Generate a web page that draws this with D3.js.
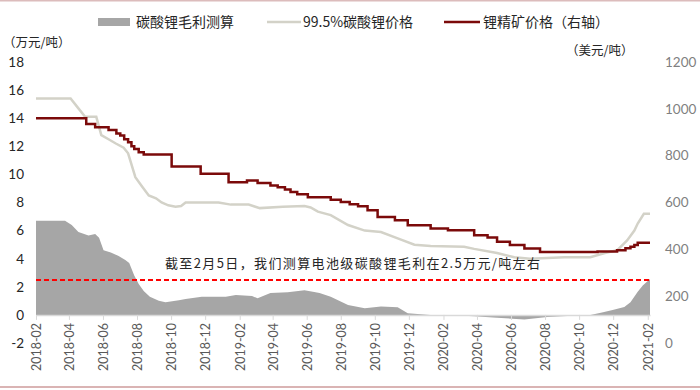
<!DOCTYPE html>
<html>
<head>
<meta charset="utf-8">
<script src="https://cdn.jsdelivr.net/npm/d3@7"></script>
<style>
  body { margin: 0; background: #fff; }
  svg { display: block; }
</style>
</head>
<body>
<div id="chart"></div>
<script>
// 碳酸锂毛利测算 (万元/吨, left axis)
const marginDates = ['2018-02-01','2018-03-25','2018-04-06','2018-04-18','2018-05-06','2018-05-18','2018-05-25','2018-06-02','2018-06-15','2018-06-29','2018-07-11','2018-07-18','2018-07-22','2018-07-27','2018-08-04','2018-08-13','2018-08-24','2018-09-09','2018-09-21','2018-10-15','2018-10-27','2018-11-25','2019-01-07','2019-01-25','2019-02-23','2019-03-05','2019-03-28','2019-04-28','2019-05-28','2019-06-12','2019-06-24','2019-07-14','2019-08-14','2019-09-13','2019-10-12','2019-11-11','2019-11-29','2020-01-09','2020-02-27','2020-03-27','2020-05-07','2020-06-25','2020-08-05','2020-09-28','2020-10-21','2020-11-09','2020-11-30','2020-12-21','2021-01-01','2021-01-14','2021-01-23','2021-02-05'];
const marginValues = [6.7,6.7,6.4,5.9,5.65,5.75,5.5,4.6,4.45,4.2,3.9,3.7,3.3,2.8,2.2,1.7,1.3,1.0,0.9,1.05,1.13,1.3,1.3,1.42,1.35,1.18,1.55,1.62,1.75,1.65,1.55,1.3,0.7,0.47,0.6,0.55,0.12,0.0,-0.05,-0.1,-0.2,-0.33,-0.15,-0.05,0.0,0.15,0.35,0.57,0.9,1.65,2.1,2.55];

// 99.5%碳酸锂价格 (万元/吨, left axis)
const carbDates = ['2018-02-01','2018-04-04','2018-04-18','2018-04-30','2018-05-20','2018-05-29','2018-06-11','2018-06-24','2018-07-08','2018-07-16','2018-07-29','2018-08-09','2018-08-22','2018-09-04','2018-09-14','2018-09-26','2018-10-09','2018-10-19','2018-10-27','2018-12-25','2019-01-16','2019-02-17','2019-03-01','2019-03-09','2019-04-19','2019-05-28','2019-06-08','2019-06-21','2019-07-14','2019-08-14','2019-09-13','2019-10-12','2019-11-11','2019-12-11','2020-01-09','2020-03-09','2020-03-27','2020-05-07','2020-06-07','2020-07-05','2020-09-05','2020-10-21','2020-11-16','2020-12-08','2020-12-26','2021-01-08','2021-01-14','2021-01-25','2021-02-05'];
const carbValues = [15.4,15.4,14.7,14.1,14.1,12.8,12.5,12.2,11.9,11.5,9.8,9.2,8.5,8.3,8.0,7.8,7.7,7.75,8.0,8.0,7.85,7.85,7.7,7.6,7.7,7.75,7.65,7.35,7.1,6.4,6.0,5.9,5.45,5.0,4.9,4.85,4.7,4.4,4.1,4.0,4.1,4.1,4.4,4.6,5.3,6.0,6.5,7.2,7.2];

// 锂精矿价格 (美元/吨, right axis), stepwise
const spodDates = ['2018-02-01','2018-05-02','2018-05-18','2018-06-11','2018-06-25','2018-07-02','2018-07-09','2018-07-16','2018-07-22','2018-07-27','2018-08-04','2018-08-13','2018-10-02','2018-11-23','2019-01-12','2019-02-14','2019-03-05','2019-03-28','2019-04-10','2019-04-23','2019-05-03','2019-05-15','2019-06-03','2019-07-14','2019-08-01','2019-08-17','2019-09-01','2019-09-18','2019-10-06','2019-11-06','2019-11-29','2020-01-09','2020-02-09','2020-03-27','2020-04-20','2020-05-07','2020-05-30','2020-06-25','2020-07-23','2020-11-03','2020-12-08','2020-12-23','2021-01-01','2021-01-08','2021-01-14','2021-02-05'];
const spodValues = [960,935,921,910,895,886,870,857,840,829,815,805,754,723,687,694,683,673,665,655,645,635,622,612,602,592,584,567,538,524,503,489,482,460,451,432,418,404,389,391,396,405,411,418,428,428];

const leftTicks = [-2,0,2,4,6,8,10,12,14,16,18];
const rightTicks = [0,200,400,600,800,1000,1200];
const xTickLabels = ['2018-02','2018-04','2018-06','2018-08','2018-10','2018-12','2019-02','2019-04','2019-06','2019-08','2019-10','2019-12','2020-02','2020-04','2020-06','2020-08','2020-10','2020-12','2021-02'];
const marginNow = 2.5;

const W = 700, H = 390;
const parse = d3.timeParse('%Y-%m-%d');
const parseM = d3.timeParse('%Y-%m');
const zip = (ds, vs) => ds.map((d, i) => ({ date: parse(d), value: vs[i] }));
const margin = zip(marginDates, marginValues);
const carb = zip(carbDates, carbValues);
const spod = zip(spodDates, spodValues);

const cnFont = '"Noto Sans CJK SC", sans-serif';
const numFont = 'Lato, "Open Sans", sans-serif';
const plainNum = d => String(d);  // keep hyphen minus, no thousands comma

const svg = d3.select('#chart').append('svg')
  .attr('width', W).attr('height', H);

// frame lines top and bottom
svg.append('line').attr('x1', 0).attr('x2', W).attr('y1', 0.75).attr('y2', 0.75)
  .attr('stroke', '#dcbcbc').attr('stroke-width', 1.5);
svg.append('line').attr('x1', 0).attr('x2', W).attr('y1', 387).attr('y2', 387)
  .attr('stroke', '#b56a6a').attr('stroke-width', 1.2);

const x = d3.scaleTime()
  .domain([parse('2018-02-01'), parse('2021-02-05')])
  .range([36, 650]);
const yL = d3.scaleLinear().domain([-2, 18]).range([343, 62]);
const yR = d3.scaleLinear().domain([0, 1200]).range([343, 62]);

// margin area
const area = d3.area()
  .x(d => x(d.date))
  .y0(yL(0))
  .y1(d => yL(d.value));
svg.append('path').datum(margin)
  .attr('d', area)
  .attr('fill', '#a6a6a6');

// x axis
const xAxis = svg.append('g')
  .attr('transform', `translate(0,${yL(0)})`)
  .call(d3.axisBottom(x)
    .tickValues(xTickLabels.map(parseM))
    .tickFormat(d3.timeFormat('%Y-%m'))
    .tickSize(5)
    .tickSizeOuter(0));
xAxis.select('.domain').attr('stroke', '#d9d9d9').attr('stroke-width', 1.5);
xAxis.selectAll('.tick line').attr('stroke', '#d9d9d9');
xAxis.selectAll('.tick text')
  .attr('transform', 'rotate(-90)')
  .attr('x', -8).attr('y', 0).attr('dy', '0.35em')
  .attr('text-anchor', 'end')
  .attr('fill', '#595959')
  .style('font-family', numFont).style('font-size', '12.5px');

// dashed line for current margin (snapped to whole pixels so it stays bright)
const yDash = Math.round(yL(marginNow));
svg.append('line')
  .attr('x1', x.range()[0]).attr('x2', x.range()[1])
  .attr('y1', yDash).attr('y2', yDash)
  .attr('stroke', '#ff0000').attr('stroke-width', 2)
  .attr('stroke-dasharray', '5,3');

// lines
svg.append('path').datum(carb)
  .attr('d', d3.line().x(d => x(d.date)).y(d => yL(d.value)))
  .attr('fill', 'none').attr('stroke', '#d3d2c8').attr('stroke-width', 2.5);
svg.append('path').datum(spod)
  .attr('d', d3.line().x(d => x(d.date)).y(d => yR(d.value)).curve(d3.curveStepAfter))
  .attr('fill', 'none').attr('stroke', '#7b0a0a').attr('stroke-width', 2.5);

// left axis labels
const gl = svg.append('g').attr('transform', 'translate(27,0)')
  .call(d3.axisLeft(yL).tickValues(leftTicks).tickFormat(plainNum).tickSize(0).tickPadding(3));
gl.select('.domain').remove();
gl.selectAll('text').attr('fill', '#262626')
  .style('font-family', numFont).style('font-size', '13.5px');

// right axis labels
const gr = svg.append('g').attr('transform', 'translate(662,0)')
  .call(d3.axisRight(yR).tickValues(rightTicks).tickFormat(plainNum).tickSize(0).tickPadding(3));
gr.select('.domain').remove();
gr.selectAll('text').attr('fill', '#7f7f7f')
  .style('font-family', numFont).style('font-size', '13.5px');

// unit labels
svg.append('text').attr('x', 3).attr('y', 47).text('（万元/吨）')
  .attr('fill', '#262626').style('font-family', cnFont).style('font-size', '12.5px');
svg.append('text').attr('x', 566).attr('y', 55).text('（美元/吨）')
  .attr('fill', '#262626').style('font-family', cnFont).style('font-size', '12.5px');

// annotation
svg.append('text').attr('x', 165).attr('y', 268)
  .text('截至2月5日，我们测算电池级碳酸锂毛利在2.5万元/吨左右')
  .attr('textLength', 375).attr('lengthAdjust', 'spacing')
  .attr('fill', '#262626').style('font-family', cnFont).style('font-size', '13px');

// legend
const lg = svg.append('g');
lg.append('rect').attr('x', 98).attr('y', 18).attr('width', 32).attr('height', 8).attr('fill', '#a6a6a6');
lg.append('text').attr('x', 136).attr('y', 27).text('碳酸锂毛利测算');
lg.append('line').attr('x1', 267).attr('x2', 301).attr('y1', 22).attr('y2', 22)
  .attr('stroke', '#d3d2c8').attr('stroke-width', 2.5);
lg.append('text').attr('x', 303).attr('y', 27).text('99.5%碳酸锂价格');
lg.append('line').attr('x1', 444).attr('x2', 480).attr('y1', 22).attr('y2', 22)
  .attr('stroke', '#7b0a0a').attr('stroke-width', 2.5);
lg.append('text').attr('x', 483).attr('y', 27).text('锂精矿价格（右轴）');
lg.selectAll('text').attr('fill', '#262626')
  .style('font-family', cnFont).style('font-size', '14px');
</script>
</body>
</html>
